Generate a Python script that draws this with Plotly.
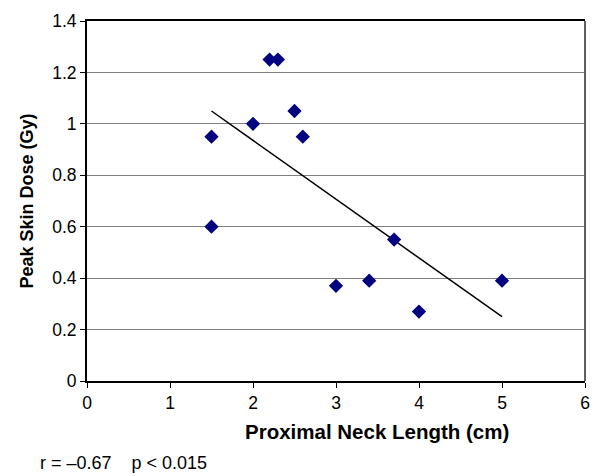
import plotly.graph_objects as go

neck_length = [1.5, 1.5, 2.0, 2.2, 2.3, 2.5, 2.6, 3.0, 3.4, 3.7, 4.0, 5.0]
skin_dose = [0.95, 0.60, 1.00, 1.25, 1.25, 1.05, 0.95, 0.37, 0.39, 0.55, 0.27, 0.39]
trend_x = [1.5, 5.0]
trend_y = [1.05, 0.25]

fig = go.Figure()
fig.add_trace(go.Scatter(x=trend_x, y=trend_y, mode="lines",
                         line=dict(color="black", width=1.5), showlegend=False,
                         hoverinfo="skip"))
fig.add_trace(go.Scatter(x=neck_length, y=skin_dose, mode="markers",
                         marker=dict(symbol="diamond", color="#000080", size=11,
                                     line=dict(width=0)),
                         showlegend=False))

font = "Liberation Sans, Arial, sans-serif"
fig.update_layout(
    width=601, height=476,
    margin=dict(l=87, r=11, t=17, b=95),
    plot_bgcolor="white", paper_bgcolor="white",
    font=dict(family=font, size=17.5, color="black"),
    xaxis=dict(range=[0, 6], dtick=1, showgrid=False, zeroline=False,
               showline=True, linecolor="black", linewidth=2, mirror=True,
               ticks="outside", ticklen=5, tickcolor="black", tickwidth=1),
    yaxis=dict(range=[0, 1.4], dtick=0.2, showgrid=True, gridcolor="#808080",
               gridwidth=1, zeroline=False,
               showline=True, linecolor="black", linewidth=2,
               ticks="outside", ticklen=5, tickcolor="black", tickwidth=1,
               title=dict(text="<b>Peak Skin Dose (Gy)</b>",
                          font=dict(size=18), standoff=14)),
    shapes=[dict(type="line", xref="paper", yref="paper", x0=1, x1=1, y0=0, y1=1,
                 line=dict(color="#606060", width=2))],
    annotations=[
        dict(text="<b>Proximal Neck Length (cm)</b>", xref="paper", yref="paper",
             x=0.5825, y=-0.141, xanchor="center", yanchor="middle",
             showarrow=False, font=dict(size=20.5)),
        dict(text="r = \u20130.67    p < 0.015", xref="paper", yref="paper",
             x=-0.099, y=-0.229, xanchor="left", yanchor="middle",
             showarrow=False, font=dict(size=18)),
    ],
)
fig.write_html("out.html")
